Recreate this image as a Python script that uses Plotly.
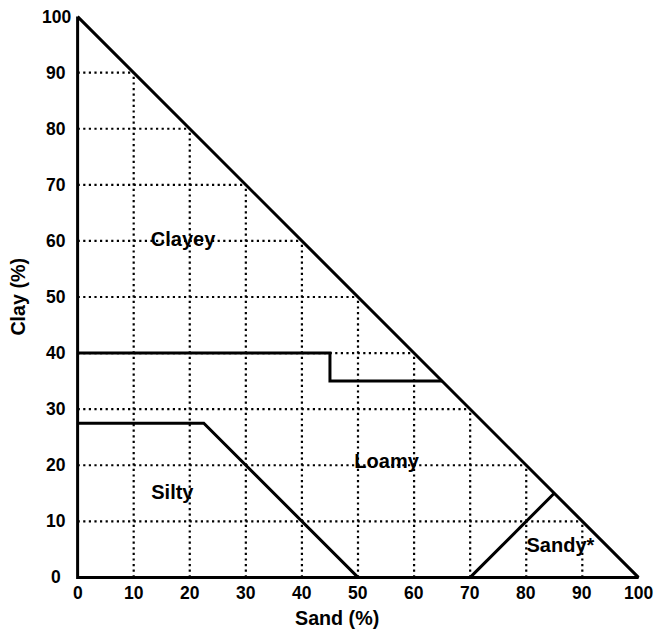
import plotly.graph_objects as go

# Tick values / labels
tick_vals = [0, 10, 20, 30, 40, 50, 60, 70, 80, 90, 100]
tick_text = [str(v) for v in tick_vals]

# Boundary lines (Sand %, Clay %)
outline_sand = [0, 0, 100, 0]
outline_clay = [100, 0, 0, 100]
clayey_sand = [0, 45, 45, 65]
clayey_clay = [40, 40, 35, 35]
silty_sand = [0, 22.5, 50]
silty_clay = [27.5, 27.5, 0]
sandy_sand = [70, 85]
sandy_clay = [0, 15]

# Class labels
label_names = ["Clayey", "Loamy", "Silty", "Sandy*"]
label_sand = [18.8, 55.1, 16.9, 86.1]
label_clay = [59.9, 20.4, 14.8, 5.4]

RMIN, RMAX = -1, 101


def to_paper(v):
    return (v - RMIN) / (RMAX - RMIN)


fig = go.Figure()

# Dotted grid limited to inside triangle
gx, gy = [], []
for k in tick_vals[1:-1]:
    gx += [0, 100 - k, None]
    gy += [k, k, None]
    gx += [k, k, None]
    gy += [0, 100 - k, None]
fig.add_trace(go.Scatter(x=gx, y=gy, mode="lines",
                         line=dict(color="black", width=2.2, dash="2.2px,3.4px"),
                         hoverinfo="skip", showlegend=False))

line_style = dict(color="black", width=3)
for xs, ys in [(outline_sand, outline_clay), (clayey_sand, clayey_clay),
               (silty_sand, silty_clay), (sandy_sand, sandy_clay)]:
    fig.add_trace(go.Scatter(x=xs, y=ys, mode="lines", line=line_style,
                             showlegend=False, hoverinfo="skip"))

fig.add_trace(go.Scatter(x=label_sand, y=label_clay, mode="text", text=label_names,
                         textfont=dict(family="Liberation Sans", size=20, color="black", weight="bold"),
                         showlegend=False, hoverinfo="skip"))

fig.update_xaxes(range=[RMIN, RMAX], showgrid=False, zeroline=False, showline=False,
                 ticks="", showticklabels=False, automargin=False)
fig.update_yaxes(range=[RMIN, RMAX], showgrid=False, zeroline=False, showline=False,
                 ticks="", showticklabels=False, automargin=False)

tick_font = dict(family="Liberation Sans", size=17.5, color="black", weight="bold")
for v, t in zip(tick_vals, tick_text):
    # y-axis labels (centered column left of axis)
    fig.add_annotation(x=to_paper(-3.8), y=to_paper(v), xref="paper", yref="paper",
                       text=t, showarrow=False, font=tick_font,
                       xanchor="center", yanchor="middle")
    # x-axis labels
    fig.add_annotation(x=to_paper(v), y=to_paper(-2.7), xref="paper", yref="paper",
                       text=t, showarrow=False, font=tick_font,
                       xanchor="center", yanchor="middle")

title_font = dict(family="Liberation Sans", size=19.7, color="black", weight="bold")
fig.add_annotation(x=to_paper(46.3), y=to_paper(-7.3), xref="paper", yref="paper",
                   text="Sand (%)", showarrow=False, font=title_font,
                   xanchor="center", yanchor="middle")
fig.add_annotation(x=to_paper(-10.7), y=to_paper(50), xref="paper", yref="paper",
                   text="Clay (%)", showarrow=False, font=title_font, textangle=-90,
                   xanchor="center", yanchor="middle")

# margins compensate for the page's default 8px body offset
fig.update_layout(width=665, height=631, margin=dict(l=64, r=29, t=3, b=56),
                  plot_bgcolor="white", paper_bgcolor="white")

fig.write_html("out.html")
